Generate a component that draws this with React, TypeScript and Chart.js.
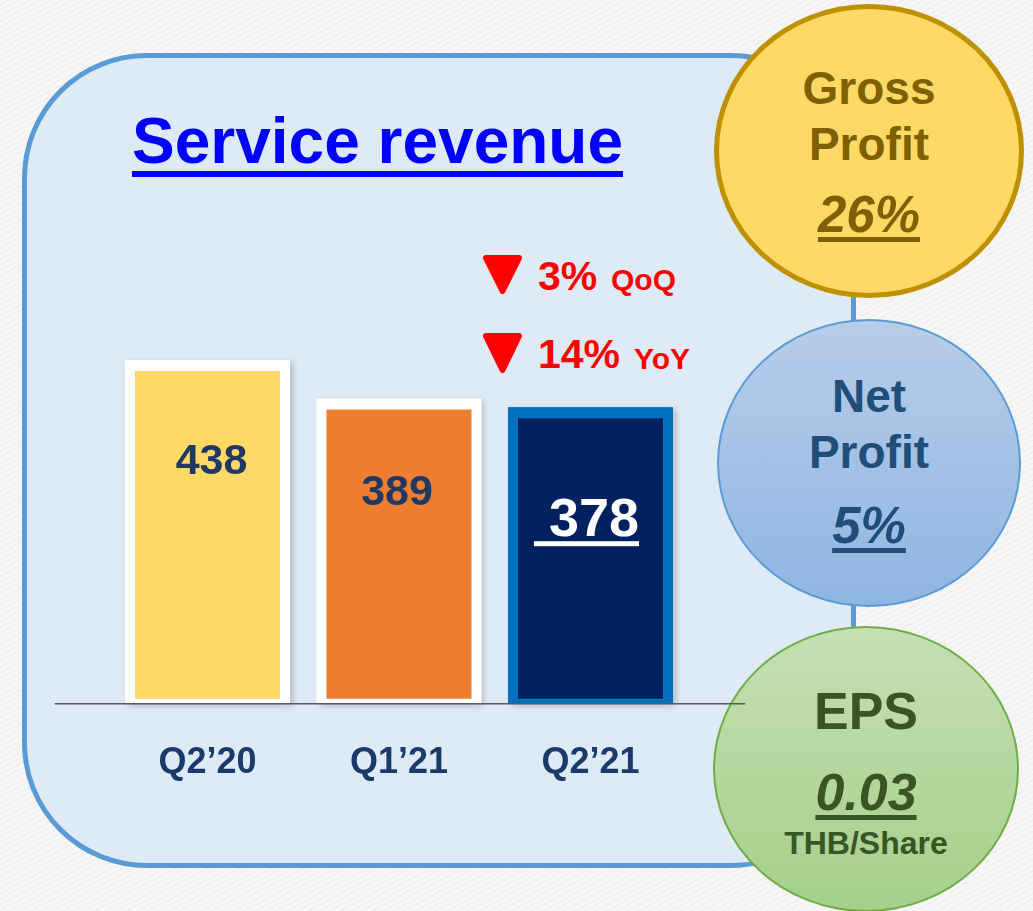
import React, { useEffect, useRef } from "react";
import { Chart, registerables } from "chart.js";

Chart.register(...registerables);

// ---- data ----
const categories = ["Q2’20", "Q1’21", "Q2’21"];
const revenue = [438, 389, 378];
const yAxisMax = 600;
const chartTitle = "Service revenue";
const qoqChange = "3%";
const yoyChange = "14%";
const grossProfit = "26%";
const netProfit = "5%";
const eps = "0.03";

// ---- styles ----
const FONT = '"Liberation Sans", Arial, Helvetica, sans-serif';
const barFill = ["#ffd966", "#ed7d31", "#002060"];
const barBorder = ["#ffffff", "#ffffff", "#0070c0"];
const valueLabelStyles = [
  { size: 43, color: "#1f3864", dy: 114, dx: 4, prefix: "", underline: false },
  { size: 43, color: "#1f3864", dy: 106, dx: -2, prefix: "", underline: false },
  { size: 54, color: "#ffffff", dy: 129, dx: -4, prefix: " ", underline: true },
];

const valueLabelPlugin = {
  id: "valueLabels",
  beforeDatasetsDraw(chart: any) {
    const ctx = chart.ctx;
    const meta = chart.getDatasetMeta(0);
    meta.data.forEach((bar: any, i: number) => {
      ctx.save();
      ctx.shadowColor = "rgba(0,0,0,0.2)";
      ctx.shadowBlur = 6;
      ctx.shadowOffsetX = 3;
      ctx.shadowOffsetY = 2;
      ctx.fillStyle = barBorder[i];
      ctx.fillRect(bar.x - bar.width / 2, bar.y, bar.width, bar.base - bar.y);
      ctx.restore();
    });
  },
  afterDatasetsDraw(chart: any) {
    const ctx = chart.ctx;
    const meta = chart.getDatasetMeta(0);
    // axis base line
    const y0 = chart.scales.y.getPixelForValue(0);
    ctx.save();
    ctx.strokeStyle = "#5a5a5a";
    ctx.lineWidth = 1.5;
    ctx.beginPath();
    ctx.moveTo(chart.chartArea.left - 57, y0);
    ctx.lineTo(chart.chartArea.right + 59, y0);
    ctx.stroke();
    ctx.restore();

    meta.data.forEach((bar: any, i: number) => {
      const st = valueLabelStyles[i];
      const text = st.prefix + String(revenue[i]);
      ctx.save();
      ctx.font = `bold ${st.size}px ${FONT}`;
      ctx.fillStyle = st.color;
      ctx.textAlign = "center";
      ctx.textBaseline = "alphabetic";
      const by = bar.y + st.dy;
      const bx = bar.x + st.dx;
      ctx.fillText(text, bx, by);
      if (st.underline) {
        const w = ctx.measureText(text).width;
        ctx.fillRect(bx - w / 2, by + 5, w, 5);
      }
      ctx.restore();
    });
  },
};

type TxtProps = {
  cx?: number;
  left?: number;
  baseline: number;
  size: number;
  color: string;
  italic?: boolean;
  underline?: boolean;
  children: React.ReactNode;
};

function Txt({ cx, left, baseline, size, color, italic, underline, children }: TxtProps) {
  const top = baseline - 0.8465 * size;
  const style: React.CSSProperties = {
    position: "absolute",
    top,
    fontFamily: FONT,
    fontWeight: "bold",
    fontSize: size,
    lineHeight: `${size}px`,
    color,
    whiteSpace: "nowrap",
    fontStyle: italic ? "italic" : "normal",
    textDecoration: underline ? "underline" : "none",
    textDecorationThickness: underline ? Math.max(4, size * 0.09) : undefined,
    textUnderlineOffset: underline ? size * 0.1 : undefined,
  };
  if (cx !== undefined) {
    style.left = cx - 200;
    style.width = 400;
    style.textAlign = "center";
  } else {
    style.left = left;
  }
  return <div style={style}>{children}</div>;
}

function Ellipse({ cx, cy, rx, ry, bg, border }: { cx: number; cy: number; rx: number; ry: number; bg: string; border: string }) {
  return (
    <div
      style={{
        position: "absolute",
        left: cx - rx,
        top: cy - ry,
        width: rx * 2,
        height: ry * 2,
        borderRadius: "50%",
        background: bg,
        border,
        boxSizing: "border-box",
      }}
    />
  );
}

export default function App() {
  const canvasRef = useRef<HTMLCanvasElement | null>(null);

  useEffect(() => {
    if (!canvasRef.current) return;
    const chart = new Chart(canvasRef.current, {
      type: "bar",
      data: {
        labels: categories,
        datasets: [
          {
            data: revenue,
            backgroundColor: barFill,
            borderColor: barBorder,
            borderWidth: { top: 11, left: 10, right: 10, bottom: 5 },
            borderSkipped: false,
            borderRadius: 3,
            barPercentage: 0.8616,
            categoryPercentage: 1,
          },
        ],
      },
      options: {
        responsive: false,
        animation: false,
        devicePixelRatio: 1,
        layout: { padding: { left: 111.75, right: 346.75, top: 233, bottom: 88 } },
        plugins: { legend: { display: false }, tooltip: { enabled: false } },
        scales: {
          x: {
            grid: { display: false, drawTicks: false },
            border: { display: false },
            ticks: {
              color: "#1b3a6b",
              font: { family: FONT, size: 36, weight: "bold" },
              padding: 38,
            },
          },
          y: { display: false, min: 0, max: yAxisMax },
        },
      },
      plugins: [valueLabelPlugin],
    } as any);
    return () => chart.destroy();
  }, []);

  return (
    <div
      style={{
        position: "absolute",
        left: 0,
        top: 0,
        width: 1033,
        height: 911,
        overflow: "hidden",
        background:
          "repeating-linear-gradient(-28deg, rgba(0,0,0,0.035) 0px, rgba(0,0,0,0.035) 1px, rgba(255,255,255,0) 1px, rgba(255,255,255,0) 5px), #f6f6f6",
      }}
    >
      {/* panel */}
      <div
        style={{
          position: "absolute",
          left: 22,
          top: 53,
          width: 834,
          height: 815,
          borderRadius: 125,
          background: "#deebf7",
          border: "5px solid #5b9bd5",
          boxSizing: "border-box",
        }}
      />
      {/* title */}
      <div
        style={{
          position: "absolute",
          left: 132,
          top: 163 - 0.8465 * 64,
          fontFamily: FONT,
          fontWeight: "bold",
          fontSize: 64,
          lineHeight: "64px",
          color: "#0000ff",
          textDecoration: "underline",
          textDecorationThickness: 6,
          textUnderlineOffset: 8,
          whiteSpace: "nowrap",
        }}
      >
        {chartTitle}
      </div>

      {/* change annotations */}
      <svg width={1033} height={911} style={{ position: "absolute", left: 0, top: 0 }}>
        <polygon points="486,258 519,258 502.5,291" fill="#ff0000" stroke="#ff0000" strokeWidth={6} strokeLinejoin="round" />
        <polygon points="486,336 519,336 502.5,370" fill="#ff0000" stroke="#ff0000" strokeWidth={6} strokeLinejoin="round" />
      </svg>
      <Txt left={538} baseline={291} size={41} color="#ff0000">{qoqChange}</Txt>
      <Txt left={611} baseline={290} size={30} color="#ff0000">QoQ</Txt>
      <Txt left={538} baseline={369} size={41} color="#ff0000">{yoyChange}</Txt>
      <Txt left={634} baseline={369} size={30} color="#ff0000">YoY</Txt>

      {/* metric circles */}
      <Ellipse cx={869} cy={151} rx={155} ry={147} bg="#ffd966" border="5px solid #bf9000" />
      <Txt cx={869} baseline={104} size={46} color="#7f6000">Gross</Txt>
      <Txt cx={869} baseline={160} size={46} color="#7f6000">Profit</Txt>
      <Txt cx={869} baseline={232} size={51} color="#7f6000" italic underline>{grossProfit}</Txt>

      <Ellipse cx={869} cy={463} rx={152} ry={144} bg="linear-gradient(180deg, #b7cde9 0%, #8fb5e3 100%)" border="2px solid #5b9bd5" />
      <Txt cx={869} baseline={412} size={46} color="#1f4e79">Net</Txt>
      <Txt cx={869} baseline={468} size={46} color="#1f4e79">Profit</Txt>
      <Txt cx={869} baseline={543} size={51} color="#1f4e79" italic underline>{netProfit}</Txt>

      <Ellipse cx={866} cy={769} rx={153} ry={143} bg="linear-gradient(180deg, #c5e0b4 0%, #a6cf8a 100%)" border="2px solid #70ad47" />
      <Txt cx={866} baseline={729} size={52} color="#375623">EPS</Txt>
      <Txt cx={866} baseline={810} size={52} color="#375623" italic underline>{eps}</Txt>
      <Txt cx={866} baseline={854} size={32} color="#375623">THB/Share</Txt>

      <canvas
        ref={canvasRef}
        width={1033}
        height={911}
        style={{ position: "absolute", left: 0, top: 0, pointerEvents: "none" }}
      />
    </div>
  );
}
